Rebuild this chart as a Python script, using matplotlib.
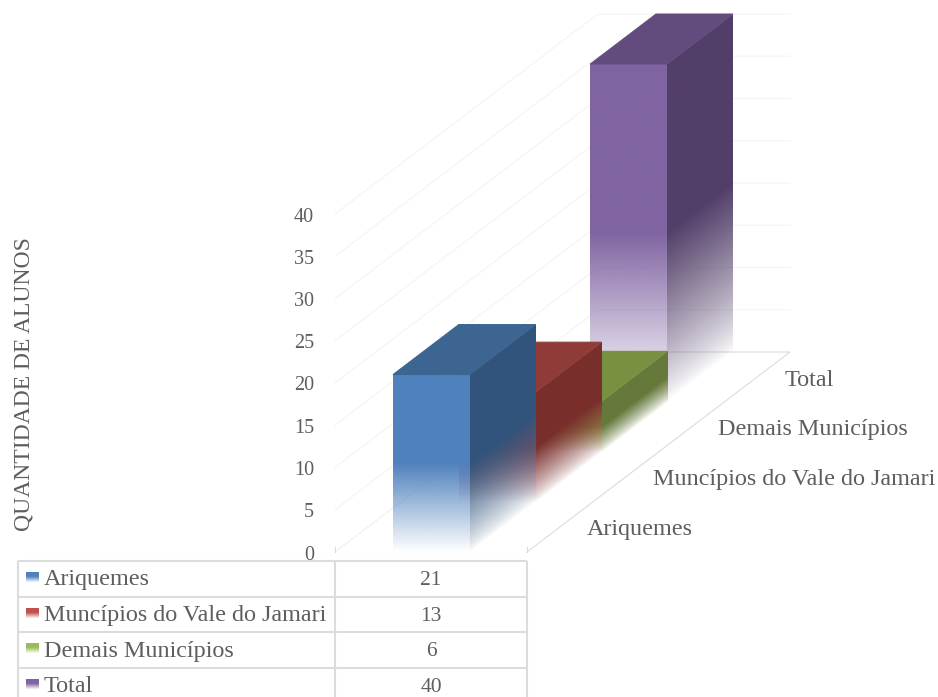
import numpy as np
import matplotlib
matplotlib.use('Agg')
import matplotlib.pyplot as plt
from matplotlib.colors import to_rgb
from matplotlib.patches import Polygon
from matplotlib.transforms import Affine2D

categories = ['Ariquemes', 'Muncípios do Vale do Jamari', 'Demais Municípios', 'Total']
values = [21, 13, 6, 40]
y_ticks = [0, 5, 10, 15, 20, 25, 30, 35, 40]

front_colors = ['#4f81bd', '#c0504d', '#9bbb59', '#8064a2']
top_colors = ['#3d6592', '#8f3c39', '#789140', '#624c7d']
side_colors = ['#32547c', '#792f2c', '#65793a', '#523f69']

# chart box, in figure pixels
ORIGIN_X, ORIGIN_Y = 335, 552
FLOOR_W = 192
UNIT = 8.45
STEP_X, STEP_Y = 65.75, 50
BAR_INSET, BAR_W = 58, 77

TEXT_COLOR = '#5e5e5e'
GRID_COLOR = '#f4f4f4'
EDGE_COLOR = '#dcdcdc'
SERIF = 'Liberation Serif'


# pixel position of a point on the floor/wall: x across, depth in rows, v in value units
def project(x, depth, v=0):
    return ORIGIN_X + x + depth * STEP_X, ORIGIN_Y - depth * STEP_Y - v * UNIT


# paints a parallelogram which is solid on top and fades out over its lower half
def faded_face(ax, color, corner, u, v, zorder, power=1.0):
    fade = np.clip(np.linspace(0, 1, 256) / 0.5, 0, 1) ** power
    rgba = np.zeros((256, 2, 4))
    rgba[..., :3] = to_rgb(color)
    rgba[..., 3] = fade[:, None]
    face = Affine2D.from_values(u[0], u[1], v[0], v[1], corner[0], corner[1])
    ax.imshow(rgba, extent=(0, 1, 0, 1), origin='lower', aspect='auto', interpolation='bilinear',
              transform=face + ax.transData, zorder=zorder)


def draw_bar(ax, row, value, front, top, side):
    zorder = 10 - row
    height = (0, -value * UNIT)
    depth = (STEP_X, -STEP_Y)
    left = project(BAR_INSET, row)
    right = project(BAR_INSET + BAR_W, row)
    faded_face(ax, front, left, (BAR_W, 0), height, zorder)
    faded_face(ax, side, right, depth, height, zorder, power=0.8)
    top_pts = [project(BAR_INSET, row, value), project(BAR_INSET + BAR_W, row, value),
               project(BAR_INSET + BAR_W, row + 1, value), project(BAR_INSET, row + 1, value)]
    ax.add_patch(Polygon(top_pts, closed=True, facecolor=top, edgecolor=top, lw=0.7, zorder=zorder))


def draw_grid(ax):
    n_rows = len(categories)
    for v in y_ticks[1:]:
        wall_front = project(0, 0, v)
        wall_back = project(0, n_rows, v)
        back_right = project(FLOOR_W, n_rows, v)
        ax.plot([wall_front[0], wall_back[0], back_right[0]], [wall_front[1], wall_back[1], back_right[1]],
                color=GRID_COLOR, lw=0.8, zorder=1)
    # floor outline
    corners = [project(0, 0), project(0, n_rows), project(FLOOR_W, n_rows), project(FLOOR_W, 0)]
    ax.plot([c[0] for c in corners[:2]], [c[1] for c in corners[:2]], color='#f0f0f0', lw=0.8, zorder=1)
    ax.plot([c[0] for c in corners[1:]], [c[1] for c in corners[1:]], color=EDGE_COLOR, lw=0.8, zorder=1)
    for x in (0, FLOOR_W):
        ax.plot([ORIGIN_X + x, ORIGIN_X + x], [ORIGIN_Y - 5, ORIGIN_Y], color=EDGE_COLOR, lw=0.8, zorder=1)


def draw_table(ax):
    left, mid, right = 18, ORIGIN_X, ORIGIN_X + FLOOR_W
    rows = [560.5, 596.5, 632, 667.5]
    for y in rows:
        ax.plot([left, right], [y, y], color=EDGE_COLOR, lw=1.5, solid_capstyle='butt')
    for x in (left, mid, right):
        ax.plot([x, x], [rows[0], 697], color=EDGE_COLOR, lw=1.5, solid_capstyle='butt')
    for i, name in enumerate(categories):
        y = rows[i] + 18
        swatch = np.zeros((16, 2, 4))
        swatch[..., :3] = to_rgb(front_colors[i])
        swatch[..., 3] = np.clip(np.linspace(1.7, 0.1, 16), 0, 1)[:, None]
        ax.imshow(swatch, extent=(26, 39, y + 3.5, y - 6.5), aspect='auto', origin='upper', zorder=3)
        ax.text(44, y + 1.5, name, family=SERIF, fontsize=17.4, color=TEXT_COLOR, va='center', ha='left')
        ax.text((mid + right) / 2, y + 2, str(values[i]), family=SERIF, fontsize=15.5, color=TEXT_COLOR,
                va='center', ha='center')


fig = plt.figure(figsize=(9.38, 6.97), dpi=100)
ax = fig.add_axes([0, 0, 1, 1])

draw_grid(ax)

# back row first so nearer bars sit on top
for row in reversed(range(len(values))):
    draw_bar(ax, row, values[row], front_colors[row], top_colors[row], side_colors[row])

for v in y_ticks:
    ax.text(314, ORIGIN_Y - v * UNIT + 3, str(v), family=SERIF, fontsize=14.5, color=TEXT_COLOR,
            va='center', ha='right')

for row, name in enumerate(categories):
    x, y = project(FLOOR_W, row)
    ax.text(x + 60, y - 22, name, family=SERIF, fontsize=17.4, color=TEXT_COLOR, va='center', ha='left')

ax.text(24, 384, 'QUANTIDADE DE ALUNOS', family=SERIF, fontsize=17, color=TEXT_COLOR, rotation=90,
        va='center', ha='center')

draw_table(ax)

ax.set_xlim(0, 938)
ax.set_ylim(697, 0)
ax.axis('off')

fig.savefig('out.png', dpi=100)
